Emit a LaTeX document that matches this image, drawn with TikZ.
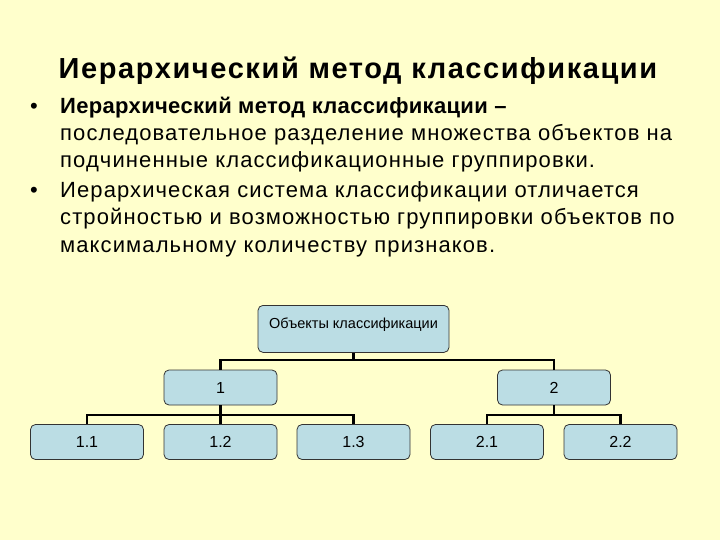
\documentclass[tikz,border=0pt]{standalone}
\usepackage{fontspec}
\setmainfont{Liberation Sans}
\newfontfamily\spacedfont[LetterSpace=5]{Liberation Sans}
\newfontfamily\spacedbold[LetterSpace=1.5,BoldFont={* Bold}]{Liberation Sans}
\newfontfamily\titlefont[LetterSpace=5.5]{Liberation Sans Bold}
\begin{document}
\begin{tikzpicture}[x=1pt,y=-1pt,
  box/.style={draw=black!80,line width=0.8pt,rounded corners=5pt,fill=boxblue,
    minimum width=113pt,minimum height=35pt,inner sep=0pt,font=\fontsize{16}{18}\selectfont},
  conn/.style={line width=2.5pt,black},
  bodytext/.style={anchor=base west,inner sep=0pt,font=\spacedfont\fontsize{22}{26}\selectfont},
  bul/.style={anchor=base,inner sep=0pt,font=\fontsize{22}{26}\selectfont}]
\definecolor{bg}{RGB}{255,255,204}
\definecolor{boxblue}{RGB}{187,221,228}
\fill[bg] (0,0) rectangle (720,540);
\useasboundingbox (0,0) rectangle (720,540);
\node[anchor=base,inner sep=0pt,font=\titlefont\fontsize{29}{34}\selectfont] (title) at (358,79) {Иерархический метод классификации};
\node[bul] (bu1) at (34,114) {•};
\node[bodytext,font=\spacedbold\fontsize{22}{26}\selectfont\bfseries] (l1) at (60,114) {Иерархический метод классификации –};
\node[bodytext] (l2) at (60,141) {последовательное разделение множества объектов на};
\node[bodytext] (l3) at (60,168) {подчиненные классификационные группировки.};
\node[bul] (bu2) at (34,198) {•};
\node[bodytext] (l4) at (60,198) {Иерархическая система классификации отличается};
\node[bodytext] (l5) at (60,225) {стройностью и возможностью группировки объектов по};
\node[bodytext] (l6) at (60,252) {максимальному количеству признаков.};
\node[box,anchor=north,minimum width=191pt,minimum height=47pt,text height=17pt,text depth=18pt,inner ysep=6pt,font=\fontsize{14.5}{16}\selectfont] (top) at (353.5,305) {Объекты классификации};
\node[box] (b1) at (220.5,387.5) {1};
\node[box] (b2) at (554,387.5) {2};
\node[box] (b11) at (87,442) {1.1};
\node[box] (b12) at (220.5,442) {1.2};
\node[box] (b13) at (353.5,442) {1.3};
\node[box] (b21) at (487,442) {2.1};
\node[box] (b22) at (620.5,442) {2.2};
\coordinate (j0) at (353.5,360);
\coordinate (j1) at (220.5,415);
\coordinate (j2) at (554,415);
\draw[conn] (top.south) -- (j0);
\draw[conn] (b1.north) |- (j0) -| (b2.north);
\draw[conn] (b1.south) -- (j1);
\draw[conn] (b11.north) |- (j1) -| (b13.north);
\draw[conn] (j1) -- (b12.north);
\draw[conn] (b2.south) -- (j2);
\draw[conn] (b21.north) |- (j2) -| (b22.north);
\end{tikzpicture}
\end{document}
